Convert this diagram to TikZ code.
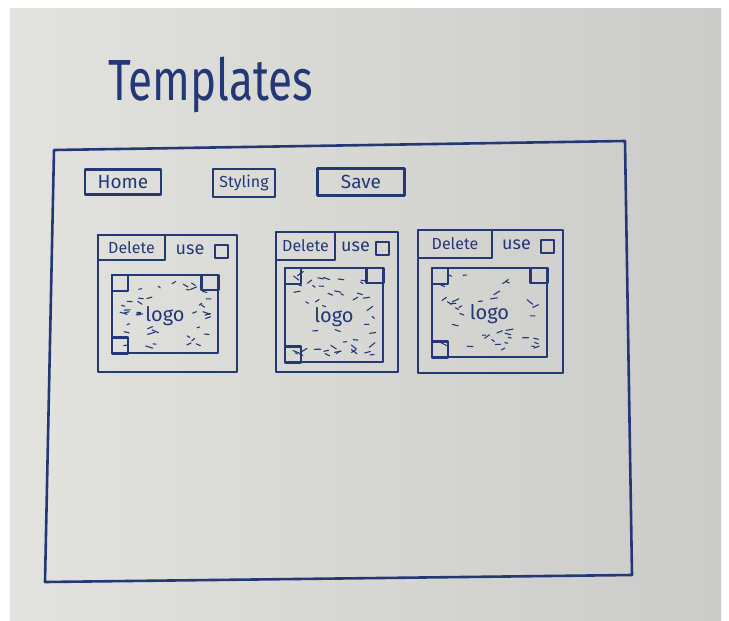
\documentclass[tikz,border=0pt]{standalone}
\usepackage{fontspec}
\setmainfont{Fira Sans}
\usetikzlibrary{calc, fit}

\definecolor{ink}{RGB}{36,56,118}
\definecolor{paperL}{RGB}{226,226,222}
\definecolor{paperR}{RGB}{203,203,201}

\tikzset{
  pen/.style={draw=ink, line width=2.5pt, line join=round},
  btn/.style={pen, inner sep=0pt, text=ink},
  scribble/.style={ink, line width=1.1pt, line cap=round},
}

\begin{document}
\begin{tikzpicture}[x=1pt, y=-1pt]
\useasboundingbox (0,0) rectangle (729,621);
\fill[white] (0,0) rectangle (729,621);
% sheet of paper
\shade[left color=paperL, right color=paperR] (10,8) rectangle (721,621);

% page title
\node[anchor=base west, text=ink, font=\fontsize{58}{58}\selectfont, inner sep=0pt] (title) at (108,100) {\scalebox{0.76}[1]{Templates}};

% page frame
\draw[pen, line width=2.6pt] (54,150) -- (625,141) -- (632,575) -- (45,582) -- cycle;

% menu buttons
\node[btn, minimum width=76pt, minimum height=25pt, font=\fontsize{19}{19}\selectfont] (home) at (123,182) {Home};
\node[btn, minimum width=62pt, minimum height=28pt, font=\fontsize{16}{16}\selectfont] (styling) at (244,183) {Styling};
\node[btn, minimum width=87pt, minimum height=27pt, font=\fontsize{19}{19}\selectfont] (save) at (361,182) {Save};

% template cards: outer box, delete button, logo area
\foreach \n/\xa/\ya/\xb/\yb/\xd/\yd/\lxa/\lya/\lxb/\lyb in {
    1/98/235/237/372/165/260/112/275/218/353,
    2/276/232/398/372/335/260/285/268/383/362,
    3/418/230/563/373/492/258/432/268/547/357} {
  \node[pen, fit={(\xa,\ya) (\xb,\yb)}, inner sep=0pt] (card\n) {};
  \node[pen, minimum width={(\xd-\xa)*1pt}, minimum height={(\yd-\ya)*1pt},
        inner sep=0pt, text=ink, font=\fontsize{16}{16}\selectfont] (del\n)
        at ($(\xa,\ya)!0.5!(\xd,\yd)$) {Delete};
  \node[pen, minimum size=13pt, inner sep=0pt, anchor=north east] (chk\n)
        at ($(card\n.north east)+(-9,10)$) {};
  \node[text=ink, font=\fontsize{18}{18}\selectfont, inner sep=0pt] (use\n)
        at ($(del\n.east)!0.5!(chk\n.west)$) {use};
  \node[pen, fit={(\lxa,\lya) (\lxb,\lyb)}, inner sep=0pt] (logo\n) {};
  \node[text=ink, font=\fontsize{20}{20}\selectfont, inner sep=1pt] (logotext\n)
        at ($(logo\n.center)+(0,2)$) {logo};
  % little corner marks
  \draw[pen] ([shift={(1,1)}]logo\n.north west) rectangle ++(16,16);
  \draw[pen] ([shift={(-1,1)}]logo\n.north east) rectangle ++(-17,15);
  \draw[pen] ([shift={(1,-1)}]logo\n.south west) rectangle ++(16,-16);
  % scribbled fill
  \pgfmathsetseed{\n*37}
  \pgfmathsetmacro{\cx}{(\lxa+\lxb)/2}
  \pgfmathsetmacro{\cy}{(\lya+\lyb)/2+2}
  \foreach \k in {1,...,50} {
    \pgfmathsetmacro{\px}{\lxa+8+rnd*(\lxb-\lxa-18)}
    \pgfmathsetmacro{\py}{\lya+7+rnd*(\lyb-\lya-14)}
    \pgfmathsetmacro{\ang}{-40+rnd*80}
    \pgfmathsetmacro{\len}{2.5+rnd*5}
    \pgfmathtruncatemacro{\hole}{and(abs(\px-\cx)<27, abs(\py-\cy)<11)}
    \ifnum\hole=0
      \draw[scribble] (\px,\py) -- ++(\ang:\len);
    \fi
  }
}
\end{tikzpicture}
\end{document}
